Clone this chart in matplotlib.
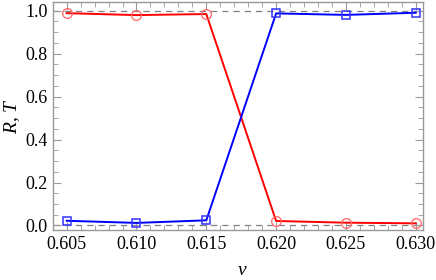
import matplotlib
matplotlib.use("Agg")
import matplotlib.pyplot as plt
from matplotlib.ticker import MultipleLocator, FormatStrFormatter

nu = [0.605, 0.610, 0.615, 0.620, 0.625, 0.630]
R = [0.988, 0.979, 0.984, 0.021, 0.013, 0.010]
T = [0.022, 0.012, 0.024, 0.987, 0.980, 0.990]

plt.rcParams['font.family'] = 'serif'
plt.rcParams['font.serif'] = ['Liberation Serif', 'DejaVu Serif']
plt.rcParams['mathtext.fontset'] = 'custom'
plt.rcParams['mathtext.it'] = 'Liberation Serif:italic'
plt.rcParams['mathtext.rm'] = 'Liberation Serif'

fig = plt.figure(figsize=(4.36, 2.80), dpi=100)
ax = fig.add_axes([53/436, 1-230/280, 370/436, 228/280])

ax.axhline(0, color='gray', ls=(0, (5, 4)), lw=0.9, zorder=1)
ax.axhline(1, color='gray', ls=(0, (5, 4)), lw=0.9, zorder=1)

ax.plot(nu, R, '-', color='red', lw=1.4, zorder=2)
ax.plot(nu, R, 'o', ms=7, mfc='none', mec=(1, 0.4, 0.4), mew=0.9, zorder=3)
ax.plot(nu, T, '-', color='blue', lw=1.4, zorder=2)
ax.plot(nu, T, 's', ms=5.5, mfc='none', mec=(0.2, 0.2, 1), mew=1.1, zorder=3)

ax.set_xlim(0.60402, 0.63052)
ax.set_ylim(-0.021, 1.04)
ax.xaxis.set_major_locator(MultipleLocator(0.005))
ax.xaxis.set_minor_locator(MultipleLocator(0.001))
ax.yaxis.set_major_locator(MultipleLocator(0.2))
ax.yaxis.set_minor_locator(MultipleLocator(0.05))
ax.xaxis.set_major_formatter(FormatStrFormatter('%.3f'))
ax.yaxis.set_major_formatter(FormatStrFormatter('%.1f'))

for s in ax.spines.values():
    s.set_color('#999999')
    s.set_linewidth(1.0)
ax.tick_params(which='both', direction='in', top=True, right=True,
               color='#999999', labelsize=13, pad=4)
ax.tick_params(which='major', length=6)
ax.tick_params(which='minor', length=3.5)

ax.set_xlabel(r'$\nu$', fontsize=14)
ax.set_ylabel(r'$R$, $T$', fontsize=14)
ax.xaxis.set_label_coords(0.513, -0.14)
ax.yaxis.set_label_coords(-0.085, 0.5)

fig.savefig('out.png', dpi=100)
